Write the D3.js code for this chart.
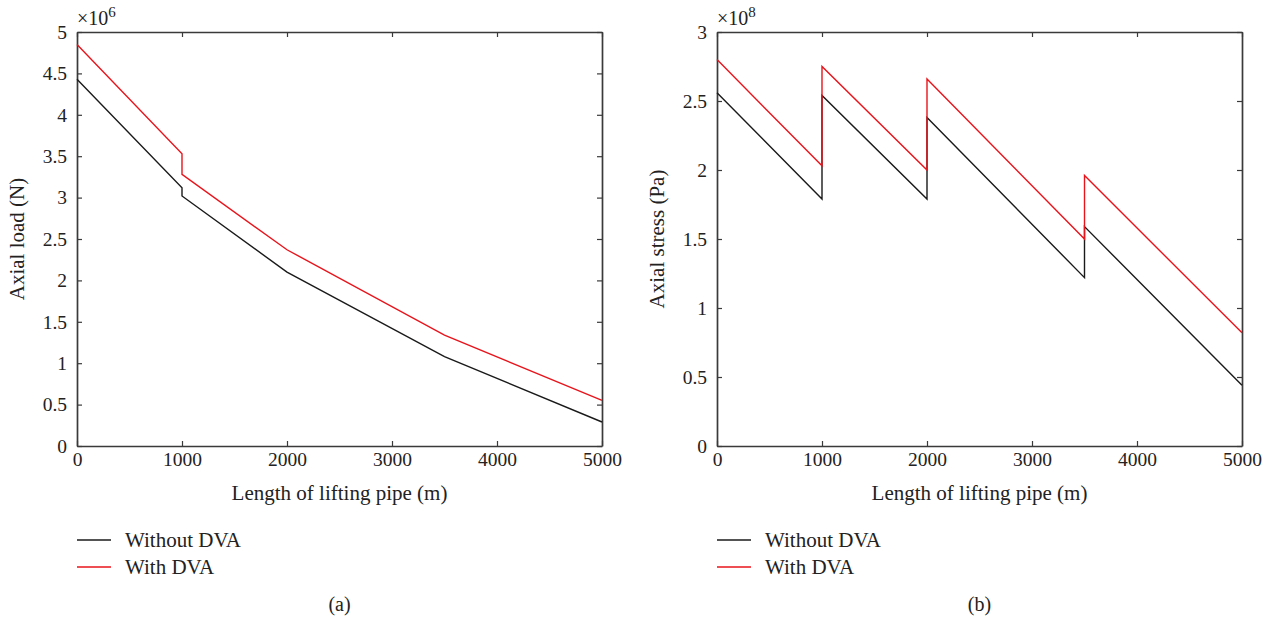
<!DOCTYPE html>
<html>
<head>
<meta charset="utf-8">
<script src="https://cdn.jsdelivr.net/npm/d3@7"></script>
<style>
  body { margin: 0; background: #fff; }
  svg { display: block; font-family: 'Liberation Serif', 'DejaVu Serif', serif; }
</style>
</head>
<body>
<svg id="chart" width="1274" height="622"></svg>
<script>
// (a) axial load, units of 1e6 N
const lengthA = [0, 1000, 1000, 2000, 3500, 5000];
const loadWithout = [4.43, 3.12, 3.02, 2.10, 1.08, 0.29];
const loadWith = [4.85, 3.53, 3.28, 2.37, 1.34, 0.55];

// (b) axial stress, units of 1e8 Pa
const lengthB = [0, 1000, 1000, 2000, 2000, 3500, 3500, 5000];
const stressWithout = [2.56, 1.79, 2.54, 1.79, 2.38, 1.22, 1.59, 0.44];
const stressWith = [2.80, 2.03, 2.75, 2.00, 2.66, 1.50, 1.96, 0.82];

const xTicks = [0, 1000, 2000, 3000, 4000, 5000];
const yTicksA = [0, 0.5, 1, 1.5, 2, 2.5, 3, 3.5, 4, 4.5, 5];
const yTicksB = [0, 0.5, 1, 1.5, 2, 2.5, 3];
const legendLabels = ['Without DVA', 'With DVA'];

const black = '#1a1a1a';
const red = '#e8141c';
const axisColor = '#3a3a3a';
const textColor = '#222';

const svg = d3.select('#chart');

const drawPanel = function drawPanel(opts) {
  const { left, right, top, bottom } = opts;
  const g = svg.append('g');

  const x = d3.scaleLinear().domain([0, 5000]).range([left, right]);
  const y = d3.scaleLinear().domain([0, opts.yMax]).range([bottom, top]);

  const fmt = d => String(d);

  // axes, ticks point inward (matlab style box)
  g.append('g')
    .attr('transform', `translate(0, ${bottom})`)
    .call(d3.axisBottom(x).tickValues(xTicks).tickFormat(fmt).tickSizeInner(-5).tickSizeOuter(0).tickPadding(6));
  g.append('g')
    .attr('transform', `translate(0, ${top})`)
    .call(d3.axisTop(x).tickValues(xTicks).tickFormat('').tickSizeInner(-5).tickSizeOuter(0));
  g.append('g')
    .attr('transform', `translate(${left}, 0)`)
    .call(d3.axisLeft(y).tickValues(opts.yTicks).tickFormat(fmt).tickSizeInner(-5).tickSizeOuter(0).tickPadding(10));
  g.append('g')
    .attr('transform', `translate(${right}, 0)`)
    .call(d3.axisRight(y).tickValues(opts.yTicks).tickFormat('').tickSizeInner(-5).tickSizeOuter(0));

  g.selectAll('.domain').attr('stroke', axisColor).attr('stroke-width', 1.7);
  g.selectAll('.tick line').attr('stroke', axisColor).attr('stroke-width', 1.2);
  g.selectAll('.tick text')
    .attr('fill', textColor)
    .style('font-size', '19.5px')
    .style('font-family', "'Liberation Serif', serif");

  const line = d3.line()
    .x(d => x(d[0]))
    .y(d => y(d[1]));

  const series = [
    { xs: opts.xs, ys: opts.without, color: black },
    { xs: opts.xs, ys: opts.with, color: red },
  ];
  series.forEach((s) => {
    g.append('path')
      .datum(s.xs.map((v, i) => [v, s.ys[i]]))
      .attr('d', line)
      .attr('fill', 'none')
      .attr('stroke', s.color)
      .attr('stroke-width', 1.4);
  });

  // exponent label
  const exp = g.append('text')
    .attr('x', left)
    .attr('y', top - 7)
    .attr('fill', textColor)
    .style('font-size', '20px')
    .text('\u00d710');
  exp.append('tspan')
    .attr('dy', -8)
    .style('font-size', '15px')
    .text(opts.exponent);

  // axis titles
  g.append('text')
    .attr('x', (left + right) / 2)
    .attr('y', bottom + 54)
    .attr('text-anchor', 'middle')
    .attr('fill', textColor)
    .style('font-size', '21px')
    .text('Length of lifting pipe (m)');

  g.append('text')
    .attr('transform', `translate(${left - 53}, ${(top + bottom) / 2}) rotate(-90)`)
    .attr('text-anchor', 'middle')
    .attr('fill', textColor)
    .style('font-size', '21px')
    .text(opts.yLabel);

  // legend
  [black, red].forEach((c, i) => {
    const ly = 540 + i * 27;
    g.append('line')
      .attr('x1', left).attr('x2', left + 34)
      .attr('y1', ly).attr('y2', ly)
      .attr('stroke', c)
      .attr('stroke-width', 1.4);
    g.append('text')
      .attr('x', left + 48)
      .attr('y', ly + 7)
      .attr('fill', textColor)
      .style('font-size', '21px')
      .text(legendLabels[i]);
  });

  g.append('text')
    .attr('x', (left + right) / 2)
    .attr('y', 611)
    .attr('text-anchor', 'middle')
    .attr('fill', textColor)
    .style('font-size', '20px')
    .text(opts.caption);
};

drawPanel({
  left: 77, right: 602, top: 32, bottom: 446,
  yMax: 5, yTicks: yTicksA, exponent: '6',
  xs: lengthA, without: loadWithout, with: loadWith,
  yLabel: 'Axial load (N)', caption: '(a)',
});

drawPanel({
  left: 717, right: 1242, top: 32, bottom: 446,
  yMax: 3, yTicks: yTicksB, exponent: '8',
  xs: lengthB, without: stressWithout, with: stressWith,
  yLabel: 'Axial stress (Pa)', caption: '(b)',
});
</script>
</body>
</html>
